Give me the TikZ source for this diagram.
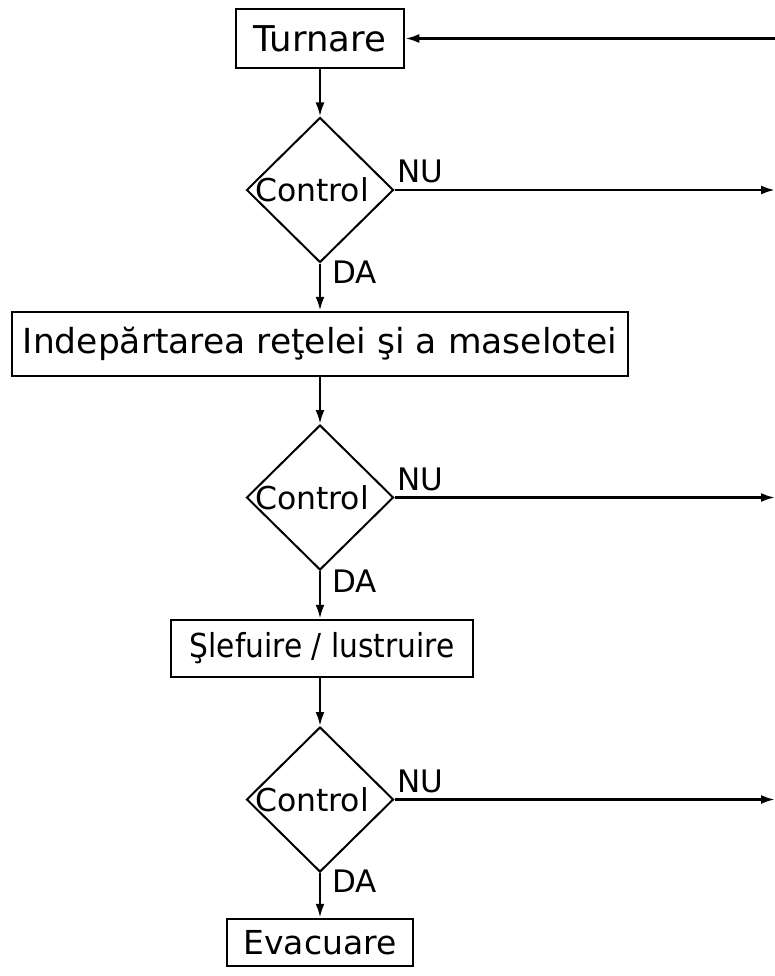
\documentclass[tikz,border=0pt]{standalone}
\usepackage{fontspec}
\setmainfont{DejaVu Sans}
\newfontfamily\condfont{DejaVu Sans Condensed}
\usetikzlibrary{shapes.geometric,arrows.meta}
\begin{document}
\begin{tikzpicture}[x=1pt,y=-1pt,
  box/.style={draw,line width=2.5pt,inner sep=0pt,font=\fontsize{33}{36}\selectfont},
  dec/.style={draw,shape=diamond,line width=2pt,minimum width=147pt,minimum height=145pt,inner sep=0pt},
  ctext/.style={inner sep=0pt,font=\fontsize{31.5}{34}\selectfont},
  conn/.style={line width=2.5pt,-{Latex[length=14pt,width=9pt]}},
  lab/.style={font=\fontsize{31}{34}\selectfont,inner sep=0pt}]
\useasboundingbox (0,0) rectangle (775,976);

\node[box,minimum width=168pt,minimum height=59pt,font=\fontsize{35.5}{38}\selectfont] (t) at (320,38.5) {Turnare};

\node[dec] (c1) at (320,190) {};
\node[ctext] (c1t) at (312,190) {Control};

\node[box,minimum width=616pt,minimum height=64pt,font=\fontsize{34.5}{37}\selectfont] (b2) at (320,344) {Indepărtarea reţelei şi a maselotei};

\node[dec] (c2) at (320,497.5) {};
\node[ctext] (c2t) at (312,497.5) {Control};

\node[box,minimum width=302pt,minimum height=57pt] (b3) at (322,648.5) {\condfont Şlefuire / lustruire};

\node[dec] (c3) at (320,799.5) {};
\node[ctext] (c3t) at (312,799.5) {Control};

\node[box,minimum width=186pt,minimum height=47pt] (e) at (320,942.5) {Evacuare};

\coordinate (r0) at (775,38.5);
\coordinate (r1) at (775,190);
\coordinate (r2) at (775,497.5);
\coordinate (r3) at (775,799.5);

\draw[conn] (r0) -- (t.east);
\draw[conn] (t.south) -- (c1.north);
\draw[conn] (c1.south) -- (b2.north);
\draw[conn] (b2.south) -- (c2.north);
\draw[conn] (c2.south) -- (b3.north -| c2.south);
\draw[conn] (b3.south -| c2.south) -- (c3.north);
\draw[conn] (c3.south) -- (e.north);
\draw[conn] (c1.east) -- (r1);
\draw[conn] (c2.east) -- (r2);
\draw[conn] (c3.east) -- (r3);

\node[lab,anchor=base west] (nu1) at (397,183) {NU};
\node[lab,anchor=base west] (nu2) at (397,490.5) {NU};
\node[lab,anchor=base west] (nu3) at (397,792.5) {NU};
\node[lab,anchor=base west] (da1) at (332,283) {DA};
\node[lab,anchor=base west] (da2) at (332,592) {DA};
\node[lab,anchor=base west] (da3) at (332,892) {DA};
\end{tikzpicture}
\end{document}
